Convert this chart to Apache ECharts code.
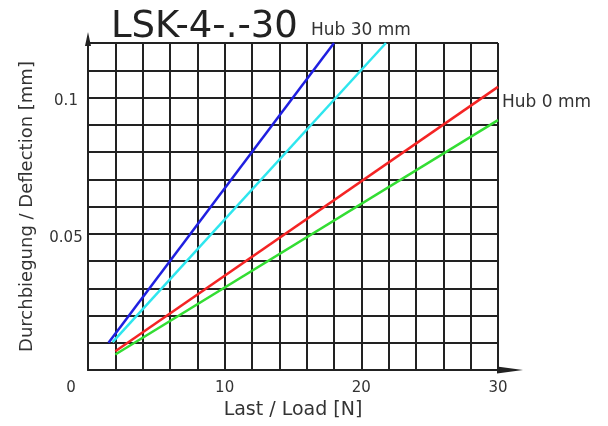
<!DOCTYPE html>
<html>
<head>
<meta charset="utf-8">
<script src="https://cdn.jsdelivr.net/npm/echarts@6/dist/echarts.min.js"></script>
<style>html,body{margin:0;padding:0;background:#fff;}#c{width:608px;height:426px;}</style>
</head>
<body>
<div id="c"></div>
<script>
// Data
var titleText = 'LSK-4-.-30';
var xName = 'Last / Load [N]';
var yName = 'Durchbiegung / Deflection [mm]';
var xTickLabels = [0, 10, 20, 30];
var yTickLabels = [0.05, 0.1];
var hub30Label = 'Hub 30 mm';
var hub0Label = 'Hub 0 mm';
// each series: [load N, deflection mm]
var blueLine = [[1.5, 0.0100], [18.0, 0.120]];
var cyanLine = [[1.8, 0.0102], [21.8, 0.120]];
var redLine = [[2.0, 0.0069], [30.0, 0.1039]];
var greenLine = [[2.0, 0.0057], [30.0, 0.0917]];

var FONT = 'DejaVu Sans';
var gridColor = '#222';
var chart = echarts.init(document.getElementById('c'), null, {renderer: 'canvas'});

function mkLine(name, data, color) {
  return {
    name: name, type: 'line', data: data, showSymbol: false, symbol: 'none',
    lineStyle: {color: color, width: 2.5}, silent: true, animation: false, z: 3
  };
}

chart.setOption({
  backgroundColor: '#fff',
  animation: false,
  grid: {left: 88, right: 110, top: 43, bottom: 56, containLabel: false},
  xAxis: {
    type: 'value', min: 0, max: 30, interval: 2,
    name: xName, nameLocation: 'middle', nameGap: 31,
    nameTextStyle: {fontFamily: FONT, fontSize: 19, color: '#333'},
    axisLine: {show: true, lineStyle: {color: gridColor, width: 2},
      symbol: ['none', 'triangle'], symbolSize: [7, 26], symbolOffset: [0, 12]},
    axisTick: {show: false},
    splitLine: {show: true, lineStyle: {color: gridColor, width: 2}},
    axisLabel: {
      margin: 11, fontFamily: FONT, fontSize: 15, color: '#333',
      formatter: function (v) {
        var r = Math.round(v);
        if (xTickLabels.indexOf(r) < 0) return '';
        if (r === 0) return '{z|0}';
        return String(r);
      },
      rich: {z: {fontFamily: FONT, fontSize: 15, color: '#333', padding: [0, 34, 0, 0]}}
    }
  },
  yAxis: {
    type: 'value', min: 0, max: 0.12, interval: 0.01,
    name: yName, nameLocation: 'middle', nameGap: 52, nameRotate: 90,
    nameTextStyle: {fontFamily: FONT, fontSize: 18, color: '#333'},
    axisLine: {show: true, lineStyle: {color: gridColor, width: 2},
      symbol: ['none', 'triangle'], symbolSize: [6, 14], symbolOffset: [0, 4]},
    axisTick: {show: false},
    splitLine: {show: true, lineStyle: {color: gridColor, width: 2}},
    axisLabel: {
      margin: 22, align: 'center', fontFamily: FONT, fontSize: 15, color: '#333',
      formatter: function (v) {
        var r = Math.round(v * 100) / 100;
        for (var i = 0; i < yTickLabels.length; i++) {
          if (Math.abs(yTickLabels[i] - r) < 1e-9) return '{d|' + yTickLabels[i] + '}';
        }
        return '';
      },
      rich: {d: {fontFamily: FONT, fontSize: 15, color: '#333', padding: [8, 0, 0, 0]}}
    }
  },
  graphic: [
    {type: 'text', left: 111, top: 9, silent: true,
      style: {text: titleText, font: '37px "' + FONT + '"', fill: '#222'}},
    {type: 'text', left: 311, top: 22, silent: true,
      style: {text: hub30Label, font: '17px "' + FONT + '"', fill: '#333'}},
    {type: 'text', left: 502, top: 94, silent: true,
      style: {text: hub0Label, font: '17px "' + FONT + '"', fill: '#333'}}
  ],
  series: [
    mkLine('blue', blueLine, '#1f1fe0'),
    mkLine('cyan', cyanLine, '#2ee6ee'),
    mkLine('red', redLine, '#f42424'),
    mkLine('green', greenLine, '#33dd33')
  ]
});
</script>
</body>
</html>
